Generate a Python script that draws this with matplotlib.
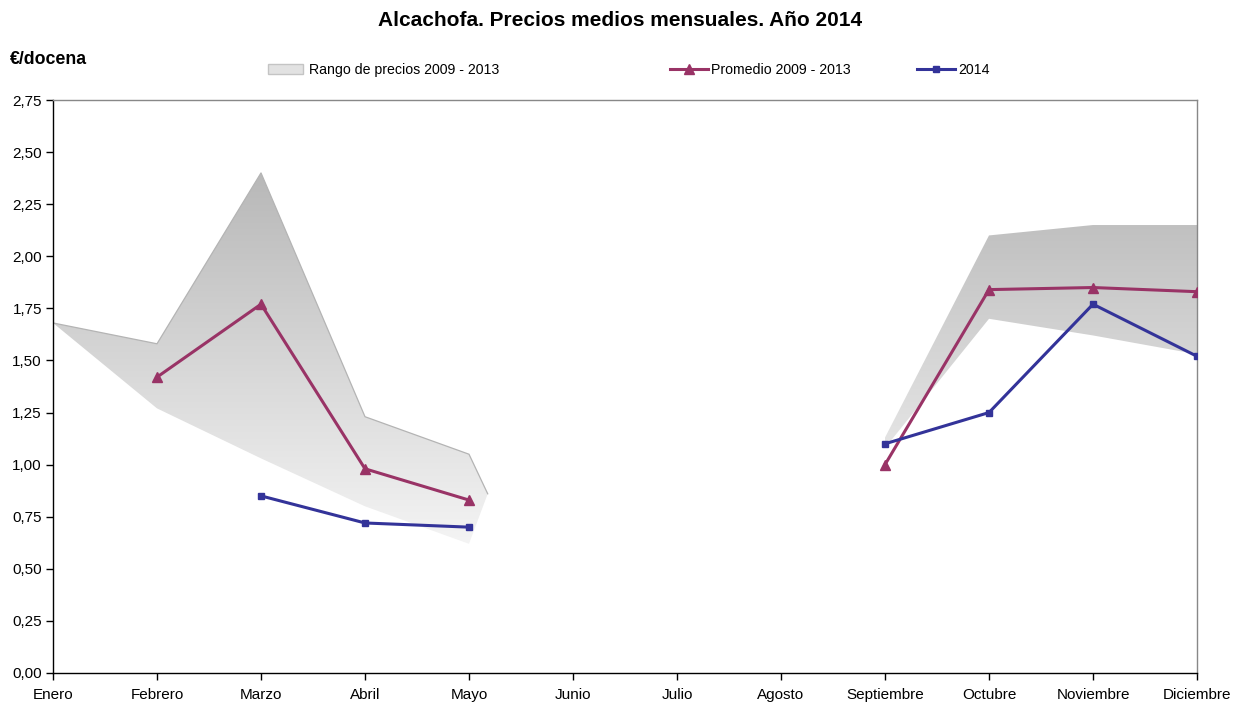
import numpy as np
import matplotlib
matplotlib.use("Agg")
import matplotlib.pyplot as plt
from matplotlib.patches import Polygon, Patch
from matplotlib.lines import Line2D
from matplotlib.ticker import FuncFormatter

plt.rcParams['font.family'] = ['Liberation Sans', 'DejaVu Sans']

meses = ['Enero', 'Febrero', 'Marzo', 'Abril', 'Mayo', 'Junio', 'Julio',
         'Agosto', 'Septiembre', 'Octubre', 'Noviembre', 'Diciembre']
nan = np.nan
rango_max = [1.68, 1.58, 2.40, 1.23, 1.05, nan, nan, nan, 1.13, 2.10, 2.15, 2.15]
rango_min = [1.68, 1.27, 1.03, 0.80, 0.62, nan, nan, nan, 1.08, 1.70, 1.62, 1.53]
promedio = [nan, 1.42, 1.77, 0.98, 0.83, nan, nan, nan, 1.00, 1.84, 1.85, 1.83]
precio_2014 = [nan, nan, 0.85, 0.72, 0.70, nan, nan, nan, 1.10, 1.25, 1.77, 1.52]
# extra vertex where the Excel area closes after May
cierre_x, cierre_y = 4.18, 0.86

color_prom = '#993366'
color_2014 = '#333399'

fig = plt.figure(figsize=(12.36, 7.02), dpi=100)
ax = fig.add_axes([53 / 1236, 1 - 673 / 702, (1197 - 53) / 1236, (673 - 100) / 702])

x = np.arange(len(meses))
rmax = np.array(rango_max)
rmin = np.array(rango_min)

# range band: split into contiguous segments
segmentos = []
actual = []
for i in x:
    if np.isnan(rmax[i]):
        if actual:
            segmentos.append(actual)
        actual = []
    else:
        actual.append(i)
if actual:
    segmentos.append(actual)

# vertical gradient image
grad = np.linspace(0.0, 1.0, 256).reshape(-1, 1)
cmap = matplotlib.colors.LinearSegmentedColormap.from_list('g', ['#f4f4f4', '#b8b8b8'])
for seg in segmentos:
    seg = np.array(seg)
    top = [(i, rmax[i]) for i in seg]
    bot = [(i, rmin[i]) for i in seg[::-1]]
    if seg[-1] == 4:
        top.append((cierre_x, cierre_y))
    verts = top + bot
    poly = Polygon(verts, closed=True, facecolor='none', edgecolor='none')
    ax.add_patch(poly)
    im = ax.imshow(grad, extent=[0, 11, 0.62, 2.40], origin='lower', cmap=cmap,
                   aspect='auto', zorder=1, interpolation='bilinear')
    im.set_clip_path(poly)
    if seg[0] == 0:
        tx, ty = zip(*top)
        ax.plot(tx, ty, color='#b4b4b4', lw=0.9, zorder=1.5)

ax.plot(x, promedio, color=color_prom, lw=2.2, marker='^', markersize=7, zorder=3)
ax.plot(x, precio_2014, color=color_2014, lw=2.2, marker='s', markersize=4.5, zorder=4)

ax.set_xlim(0, 11)
ax.set_ylim(0, 2.75)
ax.set_xticks(x)
ax.set_xticklabels(meses, fontsize=11)
ax.set_yticks(np.arange(0, 2.76, 0.25))
ax.yaxis.set_major_formatter(FuncFormatter(lambda v, p: f'{v:.2f}'.replace('.', ',')))
ax.tick_params(axis='y', labelsize=11, length=5, width=1, pad=3, direction='out')
ax.tick_params(axis='x', length=5, width=1, pad=6, direction='out')

ax.spines['left'].set_color('black')
ax.spines['bottom'].set_color('black')
ax.spines['top'].set_color('#888888')
ax.spines['right'].set_color('#888888')
for s in ax.spines.values():
    s.set_linewidth(1.0)

fig.text(620 / 1236, 1 - 20 / 702, 'Alcachofa. Precios medios mensuales. Año 2014',
         ha='center', va='center', fontsize=15, fontweight='bold')
fig.text(10 / 1236, 1 - 60 / 702, '€/docena', ha='left', va='center',
         fontsize=12.8, fontweight='bold')

# legend entries placed individually
entradas = [
    (Patch(facecolor='#e2e2e2', edgecolor='#c4c4c4'), 'Rango de precios 2009 - 2013', 268, 2.5, 0.36),
    (Line2D([], [], color=color_prom, lw=2.2, marker='^', markersize=7), 'Promedio 2009 - 2013', 670, 2.7, 0.2),
    (Line2D([], [], color=color_2014, lw=2.2, marker='s', markersize=4.5), '2014', 917, 2.7, 0.2),
]
for h, lab, px, hl, hp in entradas:
    fig.legend([h], [lab], loc='center left', bbox_to_anchor=(px / 1236, 1 - 70 / 702),
               frameon=False, fontsize=10.2, handlelength=hl, handletextpad=hp,
               borderpad=0, borderaxespad=0)

fig.savefig('out.png', dpi=100)
